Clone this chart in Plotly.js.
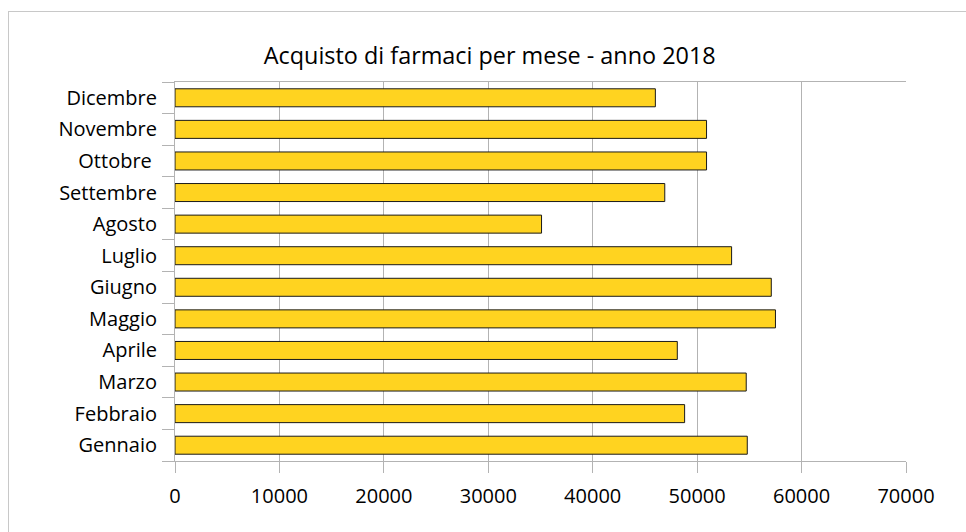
<!DOCTYPE html>
<html>
<head>
<meta charset="utf-8">
<script src="https://cdn.plot.ly/plotly-3.0.1.min.js"></script>
<style>
  html, body { margin: 0; padding: 0; background: #fff; }
  #frame { position: absolute; left: 8px; top: 11px; width: 1000px; height: 600px; border: 1px solid #c8c8c8; box-sizing: border-box; }
  #chart { position: absolute; left: 0; top: 0; width: 966px; height: 532px; }
</style>
</head>
<body>
<div id="frame"></div>
<div id="chart"></div>
<script>
const months = ["Gennaio", "Febbraio", "Marzo", "Aprile", "Maggio", "Giugno", "Luglio", "Agosto", "Settembre", "Ottobre\u00a0", "Novembre", "Dicembre"];
const purchases = [54800, 48800, 54700, 48100, 57500, 57100, 53300, 35100, 46900, 50900, 50900, 46000];
const xTicks = [0, 10000, 20000, 30000, 40000, 50000, 60000, 70000];

const trace = {
  type: "bar",
  orientation: "h",
  y: months,
  x: purchases,
  marker: { color: "#FFD320", line: { color: "#1a1a1a", width: 1 } },
  hoverinfo: "x+y"
};

const FONT = "Open Sans";

const layout = {
  width: 966,
  height: 532,
  paper_bgcolor: "rgba(0,0,0,0)",
  plot_bgcolor: "rgba(0,0,0,0)",
  margin: { l: 175, r: 60, t: 82, b: 71 },
  bargap: 0.43,
  showlegend: false,
  font: { family: FONT, size: 20, color: "#000" },
  title: {
    text: "Acquisto di farmaci per mese - anno 2018",
    font: { family: FONT, size: 23.4, color: "#000" },
    x: 0.507, xref: "container", xanchor: "center",
    y: 0.895, yref: "container", yanchor: "middle"
  },
  xaxis: {
    range: [0, 70000],
    tickvals: xTicks,
    ticktext: xTicks.map(String),
    showgrid: true, gridcolor: "#b3b3b3", gridwidth: 1,
    showline: true, linecolor: "#b3b3b3", linewidth: 1, mirror: true,
    ticks: "outside", ticklen: 11, tickcolor: "#b3b3b3",
    ticklabelstandoff: 6,
    zeroline: false,
    tickfont: { family: FONT, size: 20, color: "#000" }
  },
  yaxis: {
    type: "category",
    showgrid: false,
    showline: true, linecolor: "#b3b3b3", linewidth: 1, mirror: false,
    ticks: "outside", ticklen: 12, tickcolor: "#b3b3b3",
    tickson: "boundaries",
    ticklabelstandoff: 13,
    zeroline: false,
    tickfont: { family: FONT, size: 20, color: "#000" }
  }
};

Plotly.newPlot("chart", [trace], layout, { displayModeBar: false, staticPlot: true });
</script>
</body>
</html>
